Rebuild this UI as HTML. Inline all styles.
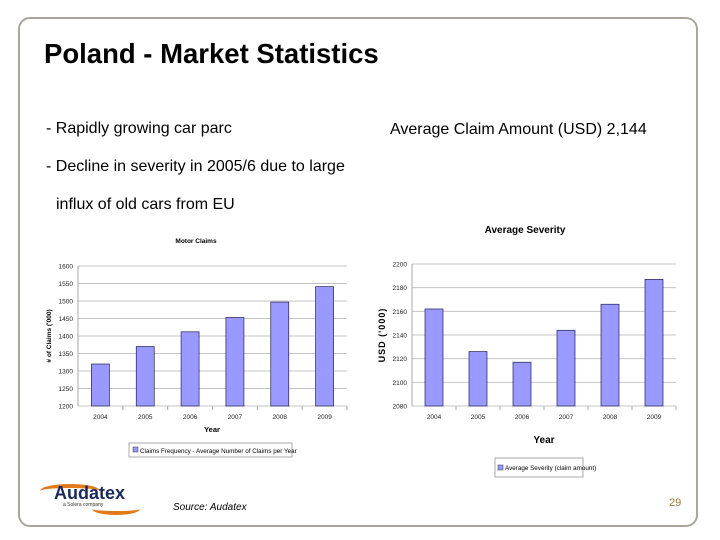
<!DOCTYPE html>
<html><head><meta charset="utf-8">
<style>
body{margin:0;width:720px;height:540px;background:#fff;font-family:"Liberation Sans",Arial,sans-serif;position:relative;overflow:hidden}
.frame{position:absolute;left:18px;top:17px;width:680px;height:510px;border:2px solid #aaa69e;border-radius:12px;box-sizing:border-box}
.t{position:absolute;white-space:nowrap}
</style></head><body>
<div class="frame"></div>
<div class="t" style="left:44px;top:38px;font-size:27.5px;font-weight:bold">Poland - Market Statistics</div>
<div class="t" style="left:46px;top:120px;font-size:16px">- Rapidly growing car parc</div>
<div class="t" style="left:390px;top:121px;font-size:16px">Average Claim Amount (USD) 2,144</div>
<div class="t" style="left:46px;top:158px;font-size:16px">- Decline in severity in 2005/6 due to large</div>
<div class="t" style="left:56px;top:196px;font-size:16px">influx of old cars from EU</div>
<svg id="c1" style="position:absolute;left:0;top:0" width="720" height="540"></svg>
<div class="t" style="left:40px;top:484px;width:60px;height:10px;border-top:4px solid #e07a1a;border-radius:50% 50% 0 0"></div>
<div class="t" style="left:54px;top:483px;font-size:18px;font-weight:bold;color:#1a2a5a">Audatex</div>
<div class="t" style="left:92px;top:503px;width:48px;height:8px;border-bottom:4px solid #e07a1a;border-radius:0 0 50% 50%"></div>
<div class="t" style="left:63px;top:502px;font-size:5px;color:#333">a Solera company</div>
<div class="t" style="left:173px;top:502px;font-size:10px;font-style:italic">Source: Audatex</div>
<div class="t" style="left:669px;top:497px;font-size:11px;color:#9a7a2a">29</div>
<script>
const years1=["2004","2005","2006","2007","2008","2009"];
const claims=[1320,1370,1412,1453,1497,1541];
const ticks1=[1200,1250,1300,1350,1400,1450,1500,1550,1600];
const years2=["2004","2005","2006","2007","2008","2009"];
const severity=[2162,2126,2117,2144,2166,2187];
const ticks2=[2080,2100,2120,2140,2160,2180,2200];
const NS="http://www.w3.org/2000/svg";
const svg=document.getElementById('c1');
function mk(tag,attrs,txt){const e=document.createElementNS(NS,tag);for(const k in attrs)e.setAttribute(k,attrs[k]);if(txt!==undefined)e.textContent=txt;svg.appendChild(e);return e;}
function chart(o){
  const y=v=>o.y0+(v-o.min)/(o.max-o.min)*(o.y1-o.y0);
  const cw=(o.x1-o.x0)/o.cats.length;
  o.ticks.forEach(t=>{
    const gl=mk('line',{x1:o.x0,x2:o.x1,y1:y(t),y2:y(t),stroke:'#c4c4c4','stroke-width':1});
    
    const tl=mk('text',{x:o.x0-5,y:y(t)+2.5,'font-size':6.5,'text-anchor':'end','font-family':'Liberation Sans',fill:'#222'},t);
    
  });
  const ax=mk('line',{x1:o.x0,x2:o.x0,y1:o.y0,y2:o.y1,stroke:'#aaa'});
  
  o.cats.forEach((c,i)=>{
    const cx=o.x0+cw*(i+0.5);
    const top=y(o.vals[i]);
    const b=mk('rect',{x:cx-9,y:top,width:18,height:o.y0-top,fill:'#9999ff',stroke:'#222255','stroke-width':0.7});
    
    const xl=mk('text',{x:cx,y:o.y0+13,'font-size':6.5,'text-anchor':'middle','font-family':'Liberation Sans',fill:'#222'},c);
    
    const tk=mk('line',{x1:o.x0+cw*(i+1),x2:o.x0+cw*(i+1),y1:o.y0,y2:o.y0+4,stroke:'#aaa'});
    
  });
}
chart({x0:78,x1:347,y0:406,y1:266,min:1200,max:1600,cats:years1,vals:claims,ticks:ticks1});
chart({x0:412,x1:676,y0:406,y1:264,min:2080,max:2200,cats:years2,vals:severity,ticks:ticks2});
let e;
e=mk('text',{x:196,y:243,'font-size':6.5,'font-weight':'bold','text-anchor':'middle'},'Motor Claims');

e=mk('text',{x:212,y:432,'font-size':7.5,'font-weight':'bold','text-anchor':'middle'},'Year');

e=mk('text',{x:0,y:0,'font-size':6.5,'font-weight':'bold','text-anchor':'middle',transform:'translate(51,336) rotate(-90)'},'# of Claims (\'000)');

e=mk('rect',{x:129,y:443,width:163,height:14,fill:'none',stroke:'#aaa'});

e=mk('rect',{x:133,y:447,width:5,height:5,fill:'#9999ff',stroke:'#333','stroke-width':0.5});

e=mk('text',{x:140,y:453,'font-size':6.3},'Claims Frequency - Average Number of Claims per Year');

e=mk('text',{x:525,y:233,'font-size':10,'font-weight':'bold','text-anchor':'middle'},'Average Severity');

e=mk('text',{x:544,y:443,'font-size':10,'font-weight':'bold','text-anchor':'middle'},'Year');

e=mk('text',{x:0,y:0,'font-size':9,'font-weight':'bold','text-anchor':'middle','letter-spacing':1,transform:'translate(385,335) rotate(-90)'},'USD (\'000)');

e=mk('rect',{x:495,y:458,width:88,height:19,fill:'none',stroke:'#aaa'});

e=mk('rect',{x:498,y:465,width:5,height:5,fill:'#9999ff',stroke:'#333','stroke-width':0.5});

e=mk('text',{x:505,y:470,'font-size':6.3},'Average Severity (claim amount)');

</script>
</body></html>
